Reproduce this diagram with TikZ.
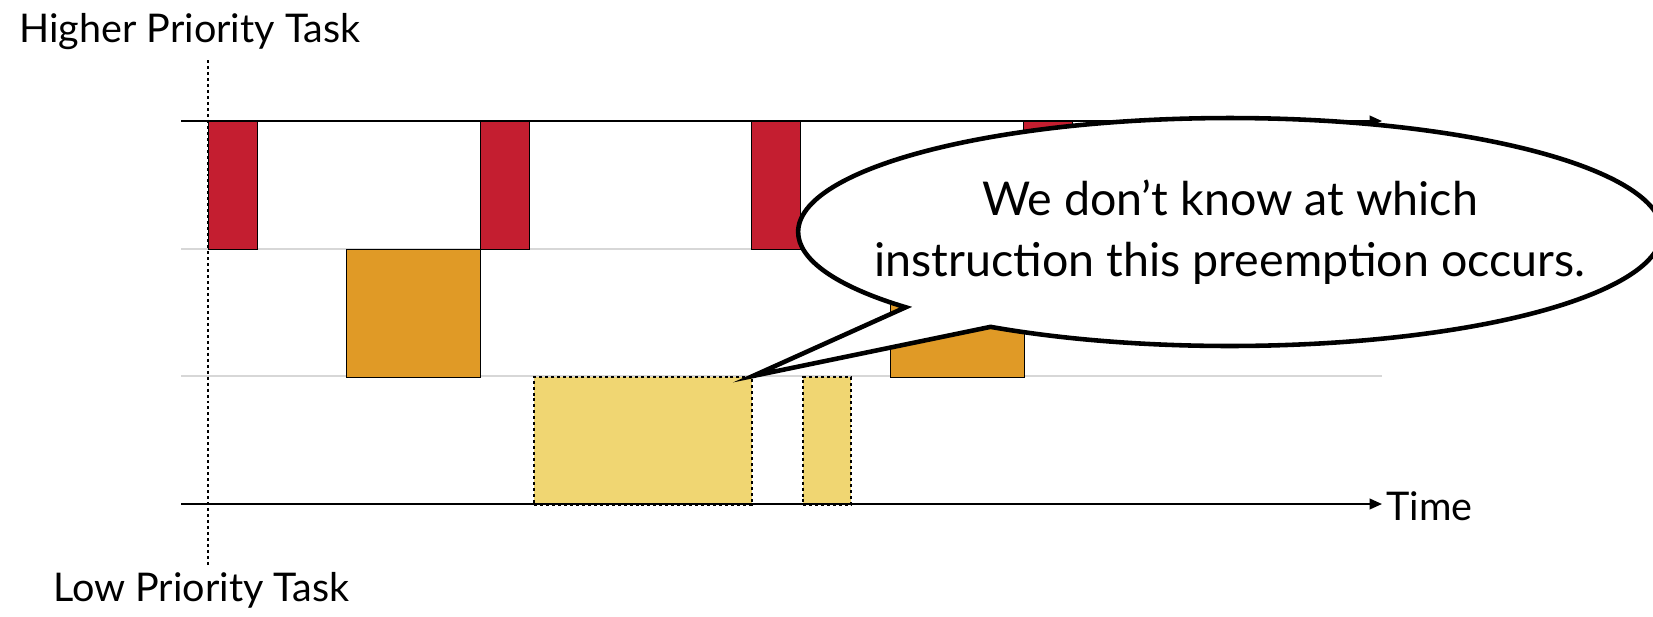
\documentclass[tikz,border=0pt]{standalone}
\usepackage{fontspec}
\setmainfont{Lato}
\usetikzlibrary{arrows.meta,positioning,shapes.callouts}
\definecolor{hired}{RGB}{196,30,48}
\definecolor{midorange}{RGB}{224,154,38}
\definecolor{loyellow}{RGB}{240,214,114}
\definecolor{gridgray}{RGB}{215,215,215}
\tikzset{
  job/.style={draw=black,line width=0.8pt,anchor=north west,inner sep=0pt,minimum height=2.56cm},
  hijob/.style={job,fill=hired,minimum width=0.98cm},
  midjob/.style={job,fill=midorange,minimum width=2.68cm},
  lojob/.style={job,fill=loyellow,line width=1.1pt,dash pattern=on 1.7pt off 1.7pt},
  axis/.style={-{Triangle[length=7pt,width=6pt]},line width=1.1pt},
  gridln/.style={line width=1.1pt,draw=gridgray},
  marker/.style={line width=1.1pt,dash pattern=on 1.7pt off 1.7pt},
  lbl/.style={font=\fontsize{22.5}{27}\selectfont,inner sep=0pt},
  bubble/.style={ellipse callout,draw=black,fill=white,line width=2.6pt,
    inner xsep=-1cm,minimum width=16.1cm,minimum height=4.56cm,
    callout pointer width=1.15cm,
    align=center,font=\fontsize{26.5}{35}\selectfont}
}

\begin{document}
\begin{tikzpicture}[x=0.02cm,y=-0.02cm]
  \useasboundingbox (0,0) rectangle (1653,616);

  % time lines
  \coordinate (hs) at (181,121);
  \coordinate (he) at (1382,121);
  \coordinate (ms) at (181,249);
  \coordinate (me) at (1382,249);
  \coordinate (ls) at (181,376);
  \coordinate (le) at (1382,376);
  \coordinate (bs) at (181,504);
  \coordinate (be) at (1382,504);

  \draw[gridln] (ms)--(me);
  \draw[gridln] (ls)--(le);
  \draw[axis] (hs)--(he);

  % jobs
  \foreach \x [count=\i] in {208,480,751,1023}{
    \node[hijob] (hi\i) at (\x,121) {};
  }
  \foreach \x [count=\i] in {346,890}{
    \node[midjob] (mid\i) at (\x,249) {};
  }
  \node[lojob,minimum width=4.36cm] (lo1) at (533,376) {};
  \node[lojob,minimum width=0.96cm] (lo2) at (802,376) {};

  % release marker
  \coordinate (mtop) at (208,60);
  \coordinate (mbot) at (208,565);
  \draw[marker] (mtop)--(mbot);

  \draw[axis] (bs)--(be);

  \node[lbl,anchor=west] (hiname) at (19,32) {Higher Priority Task};
  \node[lbl,anchor=west] (loname) at (53,590) {Low Priority Task};
  \node[lbl,anchor=west] (timelbl) at (1386,506) {Time};

  \node[bubble,callout absolute pointer={(lo1.north east)}] (note) at (1230,232)
    {We don’t know at which\\instruction this preemption occurs.};
\end{tikzpicture}
\end{document}
